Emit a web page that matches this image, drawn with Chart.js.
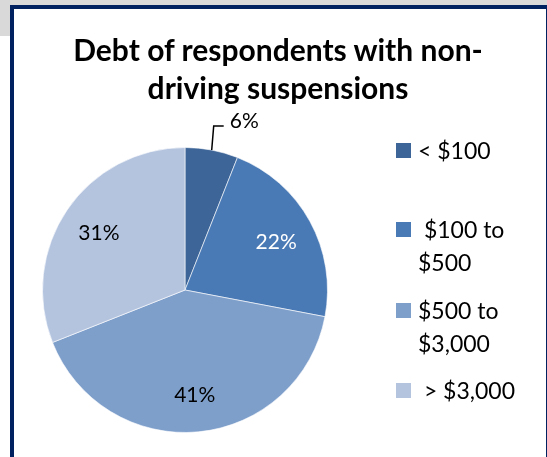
<!DOCTYPE html>
<html>
<head>
<meta charset="utf-8">
<script src="https://cdn.jsdelivr.net/npm/chart.js@4"></script>
<style>
  html, body { margin: 0; padding: 0; background: #fff; width: 547px; height: 457px; overflow: hidden; }
  #strip { position: absolute; left: 0; top: 0; width: 547px; height: 36px; background: #d9d9d9; }
  #frame { position: absolute; left: 10px; top: 5px; width: 532px; height: 470px; border: 4px solid #00215f; background: #fff; box-sizing: content-box; }
  #title { position: absolute; left: 14px; width: 528px; top: 30px; text-align: center;
           font-family: Lato, "Open Sans", sans-serif; font-weight: bold; font-size: 30px; line-height: 38px; color: #000; }
  #legend { position: absolute; left: 0; top: 0; font-family: Lato, "Open Sans", sans-serif; font-size: 23px; color: #000; }
  .item { position: absolute; left: 396px; white-space: pre; line-height: 33px; }
  .sw { position: absolute; left: 0; width: 15px; height: 15px; }
  .txt { position: absolute; left: 22px; }
  canvas { position: absolute; left: 0; top: 0; }
</style>
</head>
<body>
<div id="strip"></div>
<div id="frame"></div>
<canvas id="c" width="547" height="457"></canvas>
<div id="title">Debt of respondents with non-<br>driving suspensions</div>
<div id="legend"></div>
<script>
const categories = ["< $100", " $100 to $500", "$500 to $3,000", " > $3,000"];
const legendLines = [["< $100"], [" $100 to", "$500"], ["$500 to", "$3,000"], [" > $3,000"]];
const values = [6, 22, 41, 31];
const colors = ["#3d6598", "#4a7ab5", "#7f9fcb", "#b4c4df"];
const labelColors = ["#000", "#fff", "#000", "#000"];

const sliceLabels = {
  id: 'sliceLabels',
  afterDatasetsDraw(chart) {
    const ctx = chart.ctx;
    const meta = chart.getDatasetMeta(0);
    const total = values.reduce((a, b) => a + b, 0);
    ctx.save();
    ctx.font = '21px Lato, "Open Sans", sans-serif';
    ctx.textBaseline = 'middle';
    meta.data.forEach((arc, i) => {
      const p = arc.getProps(['x', 'y', 'startAngle', 'endAngle', 'outerRadius'], true);
      const mid = (p.startAngle + p.endAngle) / 2;
      const pct = Math.round(values[i] / total * 100) + '%';
      if (i === 0) {
        const ex = p.x + Math.cos(mid) * p.outerRadius;
        const ey = p.y + Math.sin(mid) * p.outerRadius;
        const ky = ey - 24;
        ctx.strokeStyle = '#000';
        ctx.lineWidth = 1.5;
        ctx.beginPath();
        ctx.moveTo(ex, ey);
        ctx.lineTo(ex + 2, ky);
        ctx.lineTo(ex + 12, ky);
        ctx.stroke();
        ctx.fillStyle = labelColors[i];
        ctx.textAlign = 'left';
        ctx.fillText(pct, ex + 18, ky - 5);
      } else {
        const r = p.outerRadius * 0.73;
        ctx.fillStyle = labelColors[i];
        ctx.textAlign = 'center';
        ctx.fillText(pct, p.x + Math.cos(mid) * r, p.y + Math.sin(mid) * r + 2);
      }
    });
    ctx.restore();
  }
};

const chart = new Chart(document.getElementById('c'), {
  type: 'pie',
  data: {
    labels: categories,
    datasets: [{ data: values, backgroundColor: colors, borderColor: 'rgba(255,255,255,0.6)', borderWidth: 1 }]
  },
  options: {
    responsive: false,
    animation: false,
    layout: { padding: { left: 42, right: 219, top: 147, bottom: 24 } },
    plugins: { legend: { display: false }, title: { display: false }, tooltip: { enabled: false } }
  },
  plugins: [sliceLabels]
});

// HTML legend built from the chart data
const legendTops = [134, 213, 294, 374];
const leg = document.getElementById('legend');
legendLines.forEach((lines, i) => {
  const it = document.createElement('div');
  it.className = 'item';
  it.style.top = legendTops[i] + 'px';
  const sw = document.createElement('div');
  sw.className = 'sw';
  sw.style.background = chart.data.datasets[0].backgroundColor[i];
  sw.style.top = '9px';
  const tx = document.createElement('div');
  tx.className = 'txt';
  tx.textContent = lines.join('\n');
  it.appendChild(sw);
  it.appendChild(tx);
  leg.appendChild(it);
});
</script>
</body>
</html>
